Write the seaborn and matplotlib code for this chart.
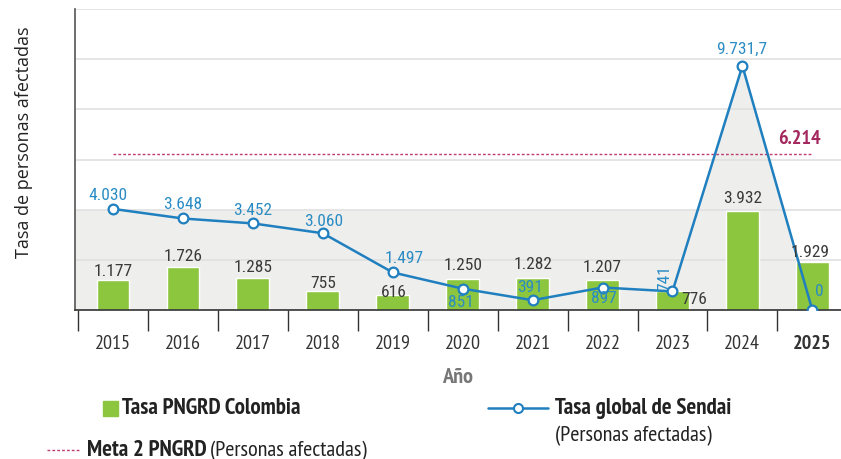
import numpy as np
import pandas as pd
import matplotlib
matplotlib.use("Agg")
import matplotlib.pyplot as plt
import matplotlib.font_manager as fm
import seaborn as sns
from matplotlib.lines import Line2D

years = ["2015", "2016", "2017", "2018", "2019", "2020", "2021", "2022", "2023", "2024", "2025"]
pngrd = [1177, 1726, 1285, 755, 616, 1250, 1282, 1207, 776, 3932, 1929]
sendai = [4030, 3648, 3452, 3060, 1497, 851, 391, 897, 741, 9731.7, 0]
meta = 6214
band_level = 4000

def fmt(v):
    if float(v).is_integer():
        return f"{int(v):,}".replace(",", ".")
    s = f"{v:,.1f}"
    return s.replace(",", "X").replace(".", ",").replace("X", ".")

installed = {f.name for f in fm.fontManager.ttflist}
def pick(cands):
    for c in cands:
        if c in installed:
            return [c, "DejaVu Sans"]
    return ["DejaVu Sans"]

sns.set_theme(style="white")
cond = pick(["Myriad Pro Condensed", "PT Sans Narrow", "Fira Sans Condensed",
             "Roboto Condensed", "Sofia Sans Condensed"])
narrow = pick(["Arial Narrow", "Liberation Sans Narrow", "Arimo", "Roboto Condensed",
               "Fira Sans Condensed", "Sofia Sans Condensed"])
plt.rcParams["font.family"] = ["Liberation Sans", "DejaVu Sans"]

fig = plt.figure(figsize=(8.41, 4.60), dpi=100)
ax = fig.add_axes([75/841, 1-311/460, 1-75/841, 301/460])

df = pd.DataFrame({"year": years, "pngrd": pngrd, "sendai": sendai})
x = np.arange(len(years))

# grey background shading
ax.fill_between([-0.55, 8.5], 0, band_level, color="#eeeeec", zorder=0, lw=0)
ax.fill_between(x[8:], 0, np.array(sendai[8:]), color="#eeeeec", zorder=0, lw=0)

sns.barplot(data=df, x="year", y="pngrd", color="#8cc63e", width=0.47,
            saturation=1, ax=ax, zorder=2)
ax.plot(x, sendai, color="#1f7fbf", lw=1.8, marker="o", ms=7,
        mfc="white", mec="#1f7fbf", mew=1.6, zorder=4)

ax.plot([x[0], x[-1]], [meta, meta], color="#c03a72", lw=1.0,
        ls=(0, (2, 1.5)), zorder=3)
ax.text(9.81, meta + 300, fmt(meta), color="#a3285e", fontsize=14.5,
        fontweight="bold", ha="center", va="bottom", family=cond)

# bar labels: offsets in pixels (dx, dy) from bar top
bar_off = [(0, 10), (0, 11), (0, 11), (0, 9), (1, 3), (0, 14), (0, 14), (0, 13),
           (22, -8), (0, 14), (-2, 10)]
for i, v in enumerate(pngrd):
    dx, dy = bar_off[i]
    ax.annotate(fmt(v), (x[i], v), xytext=(dx, dy), textcoords="offset pixels",
                ha="center", va="center", fontsize=12.5, color="#3a3a3a",
                family=narrow, zorder=5)

sen_off = [(-5, 14), (0, 15), (0, 14), (1, 13), (11, 15), (-2, -13), (-3, 14),
           (1, -10), (-8, 14), (-1, 18), (7, 19)]
for i, v in enumerate(sendai):
    dx, dy = sen_off[i]
    rot = 90 if i == 8 else 0
    ax.annotate(fmt(v), (x[i], v), xytext=(dx, dy), textcoords="offset pixels",
                ha="center", va="center", fontsize=12.5, color="#2b8cc4",
                family=narrow, rotation=rot, zorder=5)

ax.set_xlim(-0.544, 10.41)
ax.set_ylim(0, 12000)
ax.set_yticks(np.arange(0, 12001, 2000))
ax.set_yticklabels([])
ax.tick_params(axis="y", length=0)
ax.grid(axis="y", color="#e0e0e0", lw=1.2, zorder=0)
ax.set_axisbelow(True)

ax.set_xticks(x)
ax.set_xticklabels(years, fontsize=14.5, color="#333333", family=cond)
ax.get_xticklabels()[-1].set_fontweight("bold")
ax.tick_params(axis="x", length=0, pad=17)
ax.set_xticks(np.arange(-0.5, 10.5, 1.0), minor=True)
ax.tick_params(axis="x", which="minor", length=15, width=1.0, color="#333333",
               direction="out", bottom=True)

for s in ["top", "right"]:
    ax.spines[s].set_visible(False)
ax.spines["left"].set_color("#555555")
ax.spines["bottom"].set_color("#333333")
ax.spines["left"].set_linewidth(1.2)
ax.spines["bottom"].set_linewidth(1.2)

ax.set_xlabel("Año", fontsize=16, fontweight="bold", color="#777777",
              family=cond, labelpad=11)
ax.set_ylabel("Tasa de personas afectadas", fontsize=13, color="#222222",
              family=["Open Sans", "DejaVu Sans"])
ax.yaxis.set_label_coords(-0.055, 0.56)

# legend (manual)
fig.add_artist(plt.Rectangle((103/841, 1-417/460), 15/841, 15/460,
                             transform=fig.transFigure, color="#8cc63e"))
fig.text(122/841, 1-409/460, "Tasa PNGRD Colombia", fontsize=16.5,
         fontweight="bold", va="center", family=cond, color="#222222")
fig.add_artist(Line2D([488/841, 548/841], [1-409/460, 1-409/460],
                      transform=fig.transFigure, color="#1f7fbf", lw=1.8,
                      zorder=5))
fig.add_artist(Line2D([518/841], [1-409/460], transform=fig.transFigure,
                      color="#1f7fbf", marker="o", ms=6.5, mfc="white",
                      mew=1.5, zorder=6))
fig.text(555/841, 1-409/460, "Tasa global de Sendai", fontsize=16.5,
         fontweight="bold", va="center", family=cond, color="#222222")
fig.text(555/841, 1-436/460, "(Personas afectadas)", fontsize=16,
         va="center", family=cond, color="#222222")
fig.add_artist(Line2D([47/841, 79/841], [1-451/460, 1-451/460],
                      transform=fig.transFigure, color="#c03a72", lw=1.0,
                      ls=(0, (2, 1.5))))
t = fig.text(87/841, 1-451/460, "Meta 2 PNGRD", fontsize=16.5,
             fontweight="bold", va="center", family=cond, color="#222222")
fig.canvas.draw()
bb = t.get_window_extent()
fig.text(bb.x1/841 + 3/841, 1-451/460, "(Personas afectadas)", fontsize=16,
         va="center", family=cond, color="#222222")

fig.savefig("out.png", dpi=100)
